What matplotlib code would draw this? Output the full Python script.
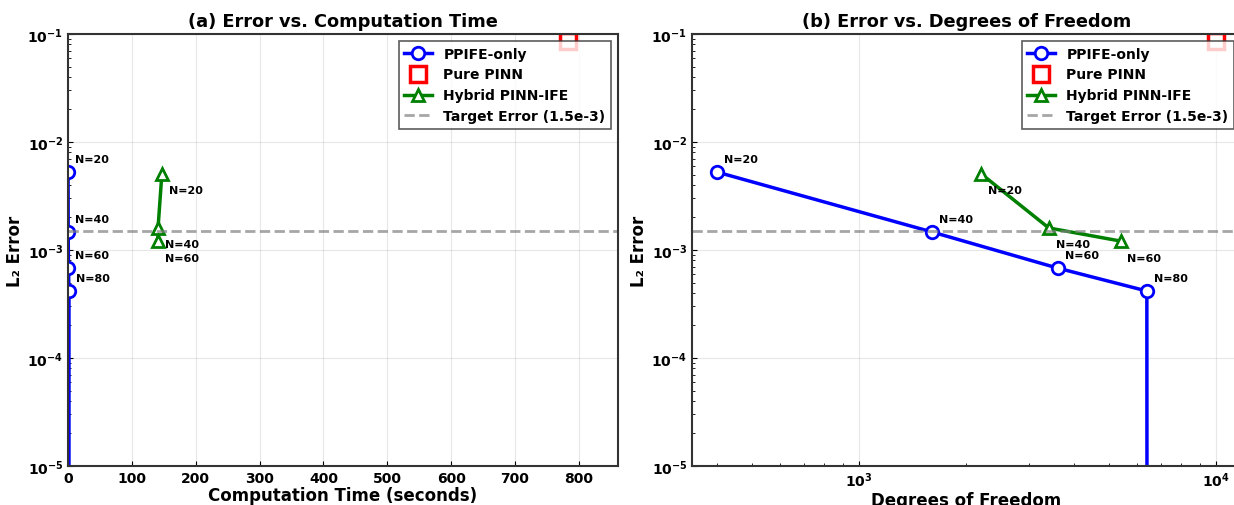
import numpy as np
import matplotlib
matplotlib.use("Agg")
import matplotlib.pyplot as plt

plt.rcParams['font.family'] = ['DejaVu Sans']
plt.rcParams['font.weight'] = 'bold'
plt.rcParams['axes.labelweight'] = 'bold'
plt.rcParams['axes.titleweight'] = 'bold'
plt.rcParams['mathtext.fontset'] = 'custom'
plt.rcParams['mathtext.rm'] = 'DejaVu Sans:bold'
plt.rcParams['mathtext.it'] = 'DejaVu Sans:bold'
plt.rcParams['mathtext.bf'] = 'DejaVu Sans:bold'

# mesh sizes, timings and errors
ppife_N = [20, 40, 60, 80, 100]
ppife_time = [0.1, 0.3, 0.7, 1.5, 2.8]
ppife_dof = [400, 1600, 3600, 6400, 10000]
ppife_err = [5.27e-3, 1.47e-3, 6.8e-4, 4.17e-4, 0.0]

hybrid_N = [20, 40, 60]
hybrid_time = [147, 141, 141]
hybrid_dof = [2200, 3400, 5400]
hybrid_err = [5.06e-3, 1.6e-3, 1.21e-3]

pinn_time = [783]
pinn_dof = [10000]
pinn_err = [0.086]

target_err = 1.5e-3

W, H = 1234, 506
fig = plt.figure(figsize=(W / 100, H / 100), dpi=100)
ax1 = fig.add_axes([68 / W, (H - 467) / H, 550 / W, 432 / H])
ax2 = fig.add_axes([692 / W, (H - 467) / H, 549 / W, 432 / H])


def draw(ax, x_ppife, x_hybrid, x_pinn):
    ax.plot(x_ppife, ppife_err, 'b-o', lw=2.5, ms=9, mfc='white', mew=2,
            label='PPIFE-only')
    ax.plot(x_pinn, pinn_err, 'rs', ms=12, mfc='white', mew=2.5,
            label='Pure PINN')
    ax.plot(x_hybrid, hybrid_err, 'g-^', lw=2.5, ms=9, mfc='white', mew=2,
            label='Hybrid PINN-IFE')
    ax.axhline(target_err, color='gray', ls='--', lw=2, alpha=0.7,
               label='Target Error (1.5e-3)')
    # labels only for points that land on the log axis
    for n, x, e in zip(ppife_N, x_ppife, ppife_err):
        if e > 0:
            ax.annotate(f'N={n}', (x, e), xytext=(5, 7),
                        textcoords='offset points', fontsize=8)
    for n, x, e in zip(hybrid_N, x_hybrid, hybrid_err):
        ax.annotate(f'N={n}', (x, e), xytext=(5, -14),
                    textcoords='offset points', fontsize=8)
    ax.set_yscale('log')
    ax.set_ylim(1e-5, 1e-1)
    ax.set_ylabel('L₂ Error', fontsize=12, labelpad=2)
    ax.grid(True, alpha=0.3)
    ax.tick_params(which='both', direction='in', labelsize=10)
    for s in ax.spines.values():
        s.set_linewidth(1.5)
        s.set_color('#333333')
    leg = ax.legend(loc='upper right', fontsize=10, fancybox=False,
                    edgecolor='#333333')
    leg.get_frame().set_linewidth(1.2)


draw(ax1, ppife_time, hybrid_time, pinn_time)
ax1.set_xlim(0, max(pinn_time) * 1.1)
ax1.set_xlabel('Computation Time (seconds)', fontsize=12, labelpad=1)
ax1.set_title('(a) Error vs. Computation Time', fontsize=12.8)

draw(ax2, ppife_dof, hybrid_dof, pinn_dof)
ax2.set_xscale('log')
ax2.set_xlabel('Degrees of Freedom', fontsize=12, labelpad=1)
ax2.set_title('(b) Error vs. Degrees of Freedom', fontsize=12.8)

fig.savefig('out.png', dpi=100)
